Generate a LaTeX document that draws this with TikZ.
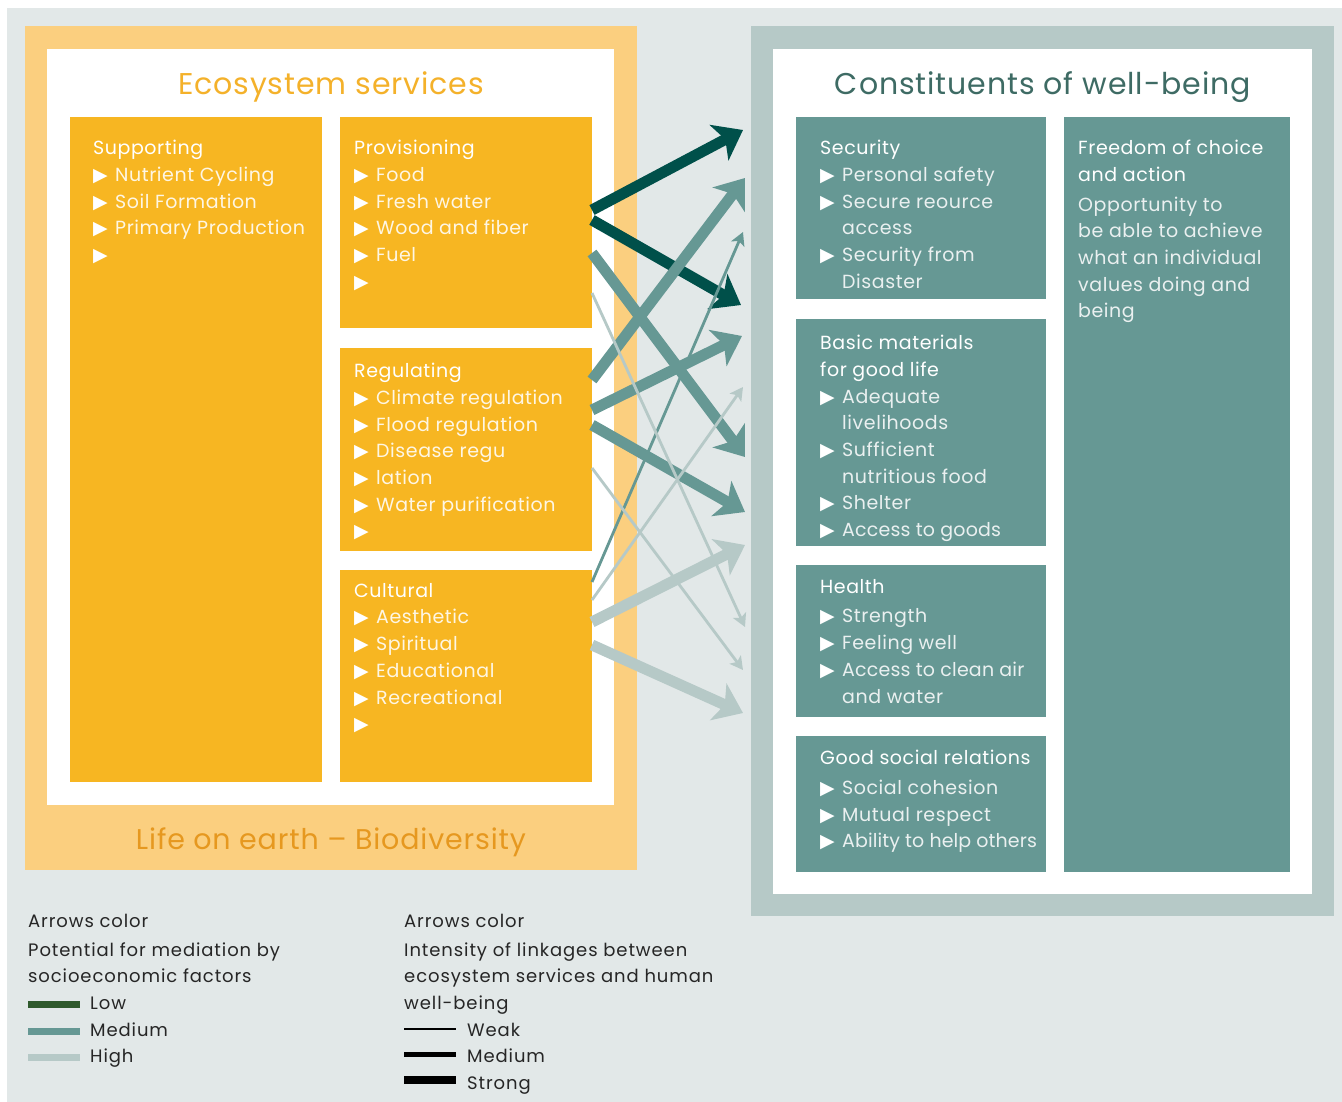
\documentclass[tikz,border=0pt]{standalone}
\usepackage{fontspec}
\setmainfont{Poppins}[LetterSpace=3]
\newfontfamily\symfont{DejaVu Sans}
\usepackage{tikz}
\usetikzlibrary{positioning, calc, arrows.meta}
\definecolor{bggray}{HTML}{E2E8E8}
\definecolor{orangepale}{HTML}{FBCF7F}
\definecolor{orangebox}{HTML}{F7B622}
\definecolor{orangetitle}{HTML}{F4B12A}
\definecolor{orangedark}{HTML}{E6981F}
\definecolor{tealpale}{HTML}{B6C9C7}
\definecolor{tealbox}{HTML}{669894}
\definecolor{tealtitle}{HTML}{3E6B64}
\definecolor{arrowlow}{HTML}{00504A}
\definecolor{legendlow}{HTML}{2F5A2D}
\newcommand{\tribul}{\makebox[22pt][l]{\color{white}\symfont\fontsize{19}{19}\selectfont ▶}}
\newcommand{\tribulgap}{\hspace*{22pt}}
\newcommand{\boxhead}[1]{{\color{white}#1}}
\tikzstyle{panel} = [rectangle, anchor=north west, inner sep=0pt, outer sep=0pt]
\tikzstyle{service} = [panel, fill=orangebox, minimum width=252pt]
\tikzstyle{constituent} = [panel, fill=tealbox, minimum width=250pt]
\tikzstyle{boxtext} = [inner sep=0pt, align=left, font=\fontsize{19}{26.7}\selectfont]
\tikzstyle{servicetext} = [boxtext, text=white!88!orangebox]
\tikzstyle{constituenttext} = [boxtext, text=white!86!tealbox]
\tikzstyle{bigtitle} = [anchor=base, inner sep=0pt, font=\fontsize{30}{36}\selectfont]
\tikzstyle{legendtext} = [anchor=base west, inner sep=0pt, font=\fontsize{18}{26}\selectfont\addfontfeatures{LetterSpace=5}, text=black!85]
\tikzstyle{legendbar} = [rectangle, anchor=west, inner sep=0pt, minimum width=52pt]
\tikzstyle{strong} = [line width=11pt, -{Stealth[length=27pt, width=40pt, inset=7pt]}]
\tikzstyle{weak} = [line width=2.8pt, -{Stealth[length=13pt, width=14pt, inset=3pt]}]

\begin{document}
\begin{tikzpicture}[x=1pt, y=-1pt, node distance=20pt]
	\fill [white] (0,0) rectangle (1342,1102);
	\fill [bggray] (7,8) rectangle (1342,1102);
	\node (eslife) [panel, fill=orangepale, minimum width=612pt, minimum height=844pt] at (25,26) {};
	\node (eswhite) [panel, fill=white, minimum width=567pt, minimum height=756pt] at (47,49) {};
	\node (cwouter) [panel, fill=tealpale, minimum width=583pt, minimum height=890pt] at (751,26) {};
	\node (cwwhite) [panel, fill=white, minimum width=539pt, minimum height=845pt] at (773,49) {};
	\node (estitle) [bigtitle, text=orangetitle] at (331,95) {Ecosystem services};
	\node (cwtitle) [bigtitle, text=tealtitle] at (1043,95) {Constituents of well-being};
	\node (lifetitle) [bigtitle, text=orangedark, font=\fontsize{28.5}{36}\selectfont] at (331,849) {Life on earth – Biodiversity};

	\node (sup) [service, minimum height=665pt] at (70,117) {};
	\node (prov) [service, minimum height=211pt, right=18pt of sup.north east, anchor=north west] {};
	\node (reg) [service, minimum height=203pt, below=20pt of prov] {};
	\node (cult) [service, minimum height=212pt, below=19pt of reg] {};
	\node (suptxt) [servicetext, below right=23pt and 23pt of sup.north west] {\boxhead{Supporting}\\ \tribul Nutrient Cycling\\ \tribul Soil Formation\\ \tribul Primary Production\\ \tribul};
	\node (provtxt) [servicetext, below right=23pt and 14pt of prov.north west] {\boxhead{Provisioning}\\ \tribul Food\\ \tribul Fresh water\\ \tribul Wood and fiber\\ \tribul Fuel\\ \tribul};
	\node (regtxt) [servicetext, below right=15pt and 14pt of reg.north west] {\boxhead{Regulating}\\ \tribul Climate regulation\\ \tribul Flood regulation\\ \tribul Disease regu\\ \tribul lation\\ \tribul Water purification\\ \tribul};
	\node (culttxt) [servicetext, below right=13pt and 14pt of cult.north west] {\boxhead{Cultural}\\ \tribul Aesthetic\\ \tribul Spiritual\\ \tribul Educational\\ \tribul Recreational\\ \tribul};

	\node (secu) [constituent, minimum height=182pt] at (796,117) {};
	\node (basic) [constituent, minimum height=227pt, below=20pt of secu] {};
	\node (health) [constituent, minimum height=152pt, below=19pt of basic] {};
	\node (social) [constituent, minimum height=136pt, below=19pt of health] {};
	\node (freedom) [constituent, minimum width=226pt, minimum height=755pt, right=18pt of secu.north east, anchor=north west] {};
	\node (secutxt) [constituenttext, below right=23pt and 24pt of secu.north west] {\boxhead{Security}\\ \tribul Personal safety\\ \tribul Secure reource\\ \tribulgap access\\ \tribul Security from\\ \tribulgap Disaster};
	\node (basictxt) [constituenttext, below right=16pt and 24pt of basic.north west] {\boxhead{Basic materials}\\ \boxhead{for good life}\\ \tribul Adequate\\ \tribulgap livelihoods\\ \tribul Sufficient\\ \tribulgap nutritious food\\ \tribul Shelter\\ \tribul {\addfontfeatures{LetterSpace=1}Access to goods}};
	\node (healthtxt) [constituenttext, below right=14pt and 24pt of health.north west] {\boxhead{Health}\\[3pt] \tribul Strength\\ \tribul Feeling well\\ \tribul {\addfontfeatures{LetterSpace=1}Access to clean air}\\ \tribulgap and water};
	\node (socialtxt) [constituenttext, below right=14pt and 24pt of social.north west] {\boxhead{Good social relations}\\[3pt] \tribul Social cohesion\\ \tribul Mutual respect\\ \tribul {\addfontfeatures{LetterSpace=0.5}Ability to help others}};
	\node (freedomtxt) [constituenttext, below right=23pt and 14pt of freedom.north west] {\boxhead{Freedom of choice}\\ \boxhead{and action}\\[3pt] Opportunity to\\ be able to achieve\\ what an individual\\ values doing and\\ being};

	\draw [strong, arrowlow] ($(prov.north east)+(0,93)$) -- ($(secu.north west)+(-53,13)$);
	\draw [strong, arrowlow] ($(prov.north east)+(0,103)$) -- ($(secu.north west)+(-55,188)$);
	\draw [strong, tealbox] ($(reg.north east)+(0,32)$) -- ($(secu.north west)+(-51,61)$);
	\draw [weak, tealbox] ($(cult.north east)+(0,12)$) -- ($(secu.north west)+(-53,115)$);
	\draw [strong, tealbox] ($(prov.north east)+(0,136)$) -- ($(basic.north west)+(-51,138)$);
	\draw [strong, tealbox] ($(reg.north east)+(0,62)$) -- ($(basic.north west)+(-54,17)$);
	\draw [strong, tealbox] ($(reg.north east)+(0,77)$) -- ($(basic.north west)+(-51,193)$);
	\draw [weak, tealpale] ($(prov.north east)+(0,176)$) -- ($(health.north west)+(-51,62)$);
	\draw [weak, tealpale] ($(reg.north east)+(0,120)$) -- ($(health.north west)+(-53,105)$);
	\draw [weak, tealpale] ($(cult.north east)+(0,30)$) -- ($(basic.north west)+(-53,68)$);
	\draw [strong, tealpale] ($(cult.north east)+(0,52)$) -- ($(basic.north west)+(-51,226)$);
	\draw [strong, tealpale] ($(cult.north east)+(0,75)$) -- ($(health.north west)+(-53,148)$);

	\node (mediahead) [legendtext] at (28,927) {Arrows color};
	\node (medialine1) [legendtext] at (28,956) {Potential for mediation by};
	\node (medialine2) [legendtext] at (28,982) {socioeconomic factors};
	\node (lowbar) [legendbar, fill=legendlow, minimum height=7pt] at (28,1004) {};
	\node (medbar) [legendbar, fill=tealbox, minimum height=7pt] at (28,1031) {};
	\node (highbar) [legendbar, fill=tealpale, minimum height=7pt] at (28,1057) {};
	\node (lowtxt) [legendtext] at (90,1009) {Low};
	\node (medtxt) [legendtext] at (90,1036) {Medium};
	\node (hightxt) [legendtext] at (90,1062) {High};
	\node (linkhead) [legendtext] at (404,927) {Arrows color};
	\node (linkline1) [legendtext] at (404,956) {Intensity of linkages between};
	\node (linkline2) [legendtext] at (404,982) {ecosystem services and human};
	\node (linkline3) [legendtext] at (404,1009) {well-being};
	\node (weakbar) [legendbar, fill=black, minimum height=2pt] at (404,1029) {};
	\node (mediumbar) [legendbar, fill=black, minimum height=5pt] at (404,1054) {};
	\node (strongbar) [legendbar, fill=black, minimum height=8pt] at (404,1080) {};
	\node (weaktxt) [legendtext] at (467,1036) {Weak};
	\node (mediumtxt) [legendtext] at (467,1062) {Medium};
	\node (strongtxt) [legendtext] at (467,1089) {Strong};
\end{tikzpicture}
\end{document}
